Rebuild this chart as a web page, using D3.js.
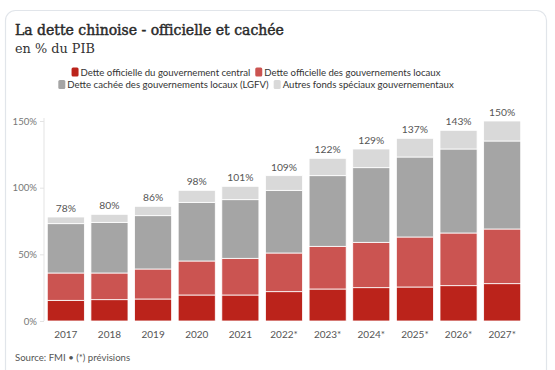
<!DOCTYPE html>
<html><head><meta charset="utf-8">
<script src="https://cdn.jsdelivr.net/npm/d3@7"></script>
<style>
html,body{margin:0;padding:0;background:#fff;}
svg{display:block;}
</style></head>
<body>
<svg id="chart" width="555" height="370"></svg>
<script>
const years = ["2017","2018","2019","2020","2021","2022*","2023*","2024*","2025*","2026*","2027*"];
const central = [15.5,16,16.5,19.5,19.5,22,24,25,25.5,26.5,28];
const local = [20.5,20,22.5,25.5,27.5,29,32,34,37.5,39.5,41];
const lgfv = [37,38,40,44,44,47,53,56,60,63,66];
const other = [5,6,7,9,10,11,13,14,14,14,15];
const totals = [78,80,86,98,101,109,122,129,137,143,150];
const seriesNames = ["Dette officielle du gouvernement central","Dette officielle des gouvernements locaux","Dette cachée des gouvernements locaux (LGFV)","Autres fonds spéciaux gouvernementaux"];
const colors = ["#bb231b","#cb5451","#a5a5a5","#d9d9d9"];
const yTicks = [0,50,100,150];

const svg = d3.select("#chart");
const sans = "Lato, 'Open Sans', sans-serif";

function fitWidth(t, w, size){
  const cur = t.node().getComputedTextLength();
  t.attr("font-size", size * w / cur);
}

// card
svg.append("rect").attr("x",5.5).attr("y",10.5).attr("width",541).attr("height",380)
  .attr("rx",10).attr("fill","#fff").attr("stroke","#e1e5ea").attr("stroke-width",1.2);

const title = svg.append("text").attr("x",15).attr("y",35).text("La dette chinoise - officielle et cachée")
  .attr("font-family","'DejaVu Serif', serif").attr("font-size",16).attr("font-weight",400)
  .attr("fill","#2a2a2a").attr("stroke","#2a2a2a").attr("stroke-width",0.45);
fitWidth(title, 269, 16);
const sub = svg.append("text").attr("x",15).attr("y",53).text("en % du PIB")
  .attr("font-family","'DejaVu Serif', serif").attr("font-size",12.5).attr("fill","#333");
fitWidth(sub, 80, 12.5);

// legend
const legRows = [[0,1],[2,3]];
const legY = [72,84.5];
const legCenter = 256;
const legWidths = [359,382];
legRows.forEach((row,ri)=>{
  const g = svg.append("g");
  let x = 0;
  row.forEach(i=>{
    g.append("rect").attr("x",x).attr("y",legY[ri]-4.5).attr("width",7).attr("height",9).attr("rx",1.5).attr("fill",colors[i]);
    const t = g.append("text").attr("x",x+9).attr("y",legY[ri]+3.5).text(seriesNames[i])
      .attr("font-family",sans).attr("font-size",9.6).attr("fill","#333");
    x += 9 + t.node().getComputedTextLength() + 5;
  });
  const w = x - 5;
  g.attr("transform",`translate(${legCenter - w/2},0)`);
});

// scales
const x = d3.scaleBand().domain(years).range([44,524]).paddingInner(0.15).paddingOuter(0.075);
const y = d3.scaleLinear().domain([0,150]).range([321,121]);

const data = years.map((yr,i)=>({year:yr, central:central[i], local:local[i], lgfv:lgfv[i], other:other[i]}));
const stack = d3.stack().keys(["central","local","lgfv","other"])(data);

svg.append("g").selectAll("g").data(stack).join("g").attr("fill",(d,i)=>colors[i])
  .selectAll("rect").data(d=>d).join("rect")
  .attr("x",d=>x(d.data.year)).attr("width",x.bandwidth())
  .attr("y",d=>y(d[1])).attr("height",d=>y(d[0])-y(d[1]))
  .attr("stroke","#fff").attr("stroke-width",0.8);

// y axis
const yAxis = d3.axisLeft(y).tickValues(yTicks).tickFormat(d=>d+"%").tickSize(4).tickPadding(3);
const ya = svg.append("g").attr("transform","translate(44,0)").call(yAxis);
ya.select(".domain").attr("stroke","#e3e3e3").attr("d","M0,118V321");
ya.selectAll(".tick line").attr("stroke","#e3e3e3");
ya.selectAll("text").attr("font-family",sans).attr("font-size",9.6).attr("fill","#777");

// x axis
const xAxis = d3.axisBottom(x).tickSize(0).tickPadding(10);
const xa = svg.append("g").attr("transform","translate(0,321)").call(xAxis);
xa.select(".domain").remove();
xa.selectAll("text").attr("font-family",sans).attr("font-size",10).attr("fill","#555");

// total labels
svg.append("g").selectAll("text").data(years).join("text")
  .attr("x",d=>x(d)+x.bandwidth()/2).attr("y",(d,i)=>y(totals[i])-5)
  .attr("text-anchor","middle").text((d,i)=>totals[i]+"%")
  .attr("font-family",sans).attr("font-size",10.3).attr("fill","#555");

svg.append("text").attr("x",15).attr("y",361).text("Source: FMI • (*) prévisions")
  .attr("font-family",sans).attr("font-size",9.6).attr("fill","#555");
</script>
</body></html>
